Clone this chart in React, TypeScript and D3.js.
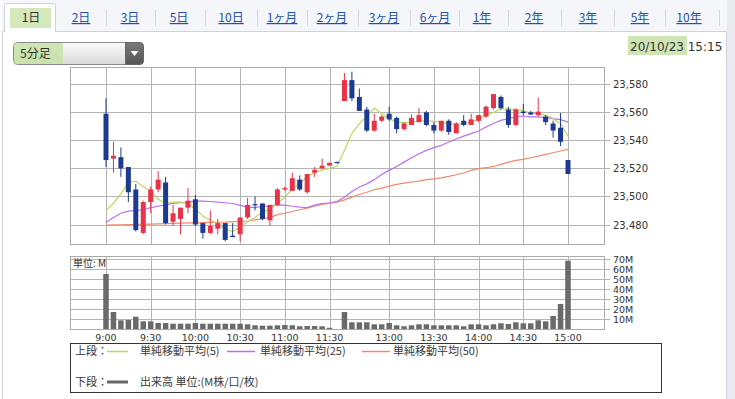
import * as d3 from "d3";

const tabLabels = ["1日", "2日", "3日", "5日", "10日", "1ヶ月", "2ヶ月", "3ヶ月", "6ヶ月", "1年", "2年", "3年", "5年", "10年"];
const tabCenters = [31, 81, 130, 179, 231, 282, 332, 384, 435, 482, 534, 588, 640, 689];

const timeTicks = [0, 6, 12, 18, 24, 30, 38, 44, 50, 56, 62];
const timeLabels = ["9:00", "9:30", "10:00", "10:30", "11:00", "11:30", "13:00", "13:30", "14:00", "14:30", "15:00"];
const priceTicks = [23480, 23500, 23520, 23540, 23560, 23580];
const volTicks = [10, 20, 30, 40, 50, 60, 70];

// 5-minute bars, index 31 = last morning print
const opens = [23559, 23527, 23528, 23521, 23505, 23474, 23496, 23505, 23510, 23482, 23484, 23492, 23498, 23481, 23474, 23477, 23481, 23472, 23473, 23485, 23494.5, 23495, 23483, 23494, 23505, 23504, 23512, 23503, 23517, 23520, 23522, 23524.5, 23568, 23583, 23571, 23562, 23547, 23554, 23559, 23556, 23548, 23551, 23553, 23560, 23551, 23547, 23554, 23545, 23554, 23551, 23554, 23557, 23563, 23571, 23562, 23551, 23560.5, 23560, 23558, 23557, 23552, 23549, 23526];
const highs = [23570, 23539, 23535, 23521, 23509, 23497, 23507, 23518, 23514, 23494, 23492, 23506, 23501, 23481, 23490, 23484, 23481, 23481, 23485, 23499, 23500, 23495, 23494, 23506, 23507, 23517, 23515, 23516, 23521, 23527, 23524, 23525, 23588, 23589, 23577, 23564, 23559, 23558, 23564, 23557, 23553, 23558.5, 23563, 23561, 23553, 23554, 23555, 23553, 23558, 23559, 23558, 23565, 23573, 23572, 23564, 23563, 23566, 23561, 23570.5, 23558, 23554, 23559.5, 23526];
const lows = [23521, 23517, 23514, 23496, 23475, 23473, 23488, 23503, 23480, 23479, 23473, 23488, 23479, 23470, 23473, 23473, 23468, 23471, 23468, 23484, 23490, 23483, 23479, 23493, 23504, 23504, 23504, 23502, 23514, 23520, 23522, 23524, 23568, 23568, 23561, 23546, 23546, 23553, 23554, 23545, 23547, 23551, 23553, 23550, 23545, 23546, 23544, 23545, 23550, 23551, 23553, 23556, 23562, 23562, 23549, 23550, 23558, 23558, 23557, 23551, 23542, 23536, 23516];
const closes = [23526, 23529, 23520, 23503, 23476, 23496, 23505, 23512, 23481, 23488, 23492, 23497, 23480, 23474, 23479, 23481, 23469, 23471, 23485, 23494, 23494, 23484, 23494, 23505, 23506, 23513, 23505, 23516, 23519, 23522, 23524, 23524, 23583, 23570, 23561, 23547, 23554, 23557, 23555, 23548, 23552, 23556, 23558, 23551, 23547, 23554, 23546, 23552, 23551, 23555, 23558, 23564, 23573, 23563, 23551, 23562, 23559.5, 23558.5, 23560.5, 23553, 23547, 23539, 23516];

const sma5 = [23490, 23495, 23502, 23510, 23511, 23507, 23504, 23498, 23495, 23496, 23496, 23495, 23491, 23486, 23483, 23480.5, 23477, 23475, 23478, 23482, 23485, 23489, 23491, 23495, 23499.5, 23505.5, 23509, 23514, 23517, 23519, 23520, 23521.5, 23533, 23545, 23552, 23557, 23563, 23559, 23555.5, 23553, 23552.5, 23553, 23554, 23554, 23553.5, 23553, 23552, 23551.5, 23552, 23553, 23555, 23558, 23560, 23562.5, 23562.5, 23562, 23561, 23559.5, 23559, 23558, 23555.5, 23552, 23543];
const sma25 = [23481.5, 23485, 23488, 23489.5, 23490, 23490.5, 23492, 23493, 23494, 23495, 23495.5, 23496, 23496.7, 23496.7, 23496.4, 23496, 23495.5, 23495, 23493.6, 23492.4, 23492, 23493, 23493, 23494, 23493.8, 23493, 23492.4, 23492, 23493.8, 23495, 23495.5, 23496.4, 23499.5, 23503.6, 23506.7, 23509, 23512, 23515.7, 23518.6, 23521.4, 23524.5, 23527.6, 23530.5, 23532.9, 23534.8, 23536.4, 23538.8, 23541, 23543, 23544.8, 23546.7, 23549.5, 23552, 23554.3, 23555.5, 23556.7, 23557.4, 23556.7, 23556.7, 23556.2, 23555.5, 23554.8, 23553];
const sma50 = [23479.5, 23479.7, 23479.8, 23480, 23480, 23480.2, 23480.3, 23480.5, 23480.6, 23480.8, 23481, 23481.1, 23481.2, 23481.3, 23481.5, 23481.6, 23481.7, 23482, 23482.2, 23482.5, 23483.3, 23484, 23485, 23487, 23488, 23489.3, 23490.5, 23491.7, 23493, 23494.3, 23495, 23496, 23497.6, 23499.5, 23501.4, 23503, 23504.8, 23506, 23507.4, 23508.6, 23509.5, 23510.3, 23511, 23512, 23512.6, 23513.3, 23514.3, 23515.5, 23516.7, 23518.6, 23519.8, 23520.5, 23521.4, 23522.9, 23524.5, 23525.7, 23526.4, 23527.6, 23528.8, 23530, 23531.2, 23532.4, 23533.6];

// volume, millions
const volumes = [55, 17, 8.7, 9, 12.3, 7.7, 7.7, 6, 6, 5.3, 5.3, 5.3, 6, 5.3, 5.3, 5.3, 5.3, 5.3, 5.3, 4.7, 3.7, 3.3, 3.3, 3.7, 4, 3.7, 2.7, 3, 3, 2.7, 1.2, 0, 17, 6.7, 6.7, 6.7, 4.7, 4.7, 6, 3.7, 2.7, 3.7, 4.7, 4.7, 3.7, 3.7, 3.7, 3.7, 2.7, 4.7, 4.7, 3.7, 4.7, 5.7, 5, 6.7, 5.7, 5.7, 8.7, 7.7, 13, 25, 68.3];

const RED = "#e8344a";
const BLUE = "#1d3a92";
const GRID = "#b4b4b4";
const JP = "'Noto Sans CJK JP', sans-serif";
const NUM = "'DejaVu Sans', sans-serif";

export default function App() {
  const W = 735;
  const H = 399;
  const plot = { left: 70, right: 604, top: 67, bottom: 244 };
  const vol = { top: 256, bottom: 329 };

  const x = d3.scaleLinear().domain([0, 62]).range([106, 568]);
  const y = d3.scaleLinear().domain([23480, 23580]).range([224.5, 84.3]);
  const yv = d3.scaleLinear().domain([0, 70]).range([329, 259]);

  const idx = d3.range(opens.length);
  const maLine = (vals: number[]) =>
    d3.line<number>().x((_, i) => x(i)).y((v) => y(v))(vals) || "";

  const cw = 5;
  const vw = 5.5;

  return (
    <div style={{ position: "fixed", left: 0, top: 0, width: W, height: H, background: "#fff" }}>
      <svg width={W} height={H} style={{ display: "block" }}>
        {/* tab strip */}
        <rect x={2} y={0} width={725} height={31} fill="#f5f6fa" />
        <rect x={727} y={0} width={8} height={H} fill="#e9ebf0" />
        <path d="M2.5,399 V31.5 H4.5" fill="none" stroke="#cfd2d8" />
        <path d="M55.5,31.5 H726.5 V399" fill="none" stroke="#cfd2d8" />
        <path d="M4.5,32 V5.5 Q4.5,3.5 6.5,3.5 H53.5 Q55.5,3.5 55.5,5.5 V32" fill="#fff" stroke="#cfd2d8" />
        <rect x={10} y={8} width={41} height={20} fill="#cfe6b4" opacity={0.9} />
        {tabLabels.map((t, i) => (
          <text
            key={t}
            x={tabCenters[i]}
            y={22}
            textAnchor="middle"
            fontFamily={JP}
            fontSize={12}
            fill={i === 0 ? "#333" : "#2353a8"}
            textDecoration={i === 0 ? "none" : "underline"}
          >
            {t}
          </text>
        ))}
        {tabCenters.slice(1).map((c, i) => {
          const next = i + 2 < tabCenters.length ? tabCenters[i + 2] : 748;
          const sx = Math.round((c + next) / 2) + 0.5;
          return <line key={i} x1={sx} x2={sx} y1={10} y2={26} stroke="#d4d6dc" />;
        })}

        {/* dropdown */}
        <defs>
          <linearGradient id="dd" x1="0" y1="0" x2="0" y2="1">
            <stop offset="0" stopColor="#fafafa" />
            <stop offset="1" stopColor="#d9d9d9" />
          </linearGradient>
          <linearGradient id="ddb" x1="0" y1="0" x2="0" y2="1">
            <stop offset="0" stopColor="#7a7a7a" />
            <stop offset="1" stopColor="#555" />
          </linearGradient>
        </defs>
        <rect x={13.5} y={42.5} width={130} height={22} rx={4} fill="url(#dd)" stroke="#8a8a8a" />
        <path d="M125.5,42.5 H139.5 Q143.5,42.5 143.5,46.5 V60.5 Q143.5,64.5 139.5,64.5 H125.5 Z" fill="url(#ddb)" stroke="#666" />
        <path d="M130.5,51 H138.5 L134.5,56 Z" fill="#fff" />
        <rect x={14} y={43} width={49} height={21} rx={3} fill="#c6e3a6" opacity={0.85} />
        <text x={20} y={58} fontFamily={JP} fontSize={12} fill="#333">5分足</text>

        {/* date */}
        <rect x={628} y={36} width={59} height={19} fill="#cfe6b4" />
        <text x={630} y={50.5} fontFamily={NUM} fontSize={12} fill="#333">20/10/23 15:15</text>

        {/* price panel */}
        <rect x={plot.left + 0.5} y={plot.top + 0.5} width={plot.right - plot.left} height={plot.bottom - plot.top} fill="#fff" stroke="#a9a9a9" />
        {priceTicks.map((p) => (
          <g key={p}>
            <line x1={plot.left} x2={plot.right + 6} y1={Math.round(y(p)) + 0.5} y2={Math.round(y(p)) + 0.5} stroke={GRID} />
            <text x={613} y={y(p) + 4} fontFamily={NUM} fontSize={10} fill="#333">
              {d3.format(",")(p)}
            </text>
          </g>
        ))}
        {timeTicks.map((t) => (
          <line key={t} x1={Math.round(x(t)) + 0.5} x2={Math.round(x(t)) + 0.5} y1={plot.top} y2={plot.bottom} stroke={GRID} />
        ))}

        <path d={maLine(sma50)} fill="none" stroke="#f08a6c" strokeWidth={1.2} />
        <path d={maLine(sma25)} fill="none" stroke="#b86ff0" strokeWidth={1.2} />
        <path d={maLine(sma5)} fill="none" stroke="#bcd85c" strokeWidth={1.2} />

        {idx.map((i) => {
          const up = closes[i] > opens[i];
          const col = up ? RED : BLUE;
          const yTop = y(Math.max(opens[i], closes[i]));
          const yBot = y(Math.min(opens[i], closes[i]));
          const cx = x(i);
          return (
            <g key={i}>
              <line x1={cx} x2={cx} y1={y(highs[i])} y2={y(lows[i])} stroke={col} strokeWidth={1} />
              <rect x={cx - cw / 2} y={yTop} width={cw} height={Math.max(1.2, yBot - yTop)} fill={col} />
            </g>
          );
        })}

        {/* volume panel */}
        <rect x={plot.left + 0.5} y={vol.top + 0.5} width={plot.right - plot.left} height={vol.bottom - vol.top} fill="#fff" stroke="#a9a9a9" />
        {volTicks.map((v) => (
          <g key={v}>
            <line x1={plot.left} x2={plot.right + 6} y1={Math.round(yv(v)) + 0.5} y2={Math.round(yv(v)) + 0.5} stroke={GRID} />
            <text x={613} y={yv(v) + 3.5} fontFamily={NUM} fontSize={9.5} fill="#333">
              {v}M
            </text>
          </g>
        ))}
        {timeTicks.map((t, k) => (
          <g key={t}>
            <line x1={Math.round(x(t)) + 0.5} x2={Math.round(x(t)) + 0.5} y1={vol.top} y2={vol.bottom} stroke={GRID} />
            <text x={x(t)} y={341} textAnchor="middle" fontFamily={NUM} fontSize={9.5} fill="#333">
              {timeLabels[k]}
            </text>
          </g>
        ))}
        {idx.map((i) =>
          volumes[i] > 0 ? (
            <rect key={i} x={x(i) - vw / 2} y={yv(volumes[i])} width={vw} height={yv(0) - yv(volumes[i])} fill="#6a6a6a" />
          ) : null
        )}
        <text x={73} y={267} fontFamily={JP} fontSize={10} fill="#333">単位: M</text>

        {/* legend */}
        <rect x={70.5} y={343.5} width={591} height={49} fill="#fff" stroke="#333" />
        <g fontFamily={JP} fontSize={11} fill="#3a3a3a">
          <text x={75} y={355}>上段：</text>
          <line x1={107} x2={128} y1={351.5} y2={351.5} stroke="#bcd85c" strokeWidth={1.5} />
          <text x={140} y={355}>単純移動平均(5)</text>
          <line x1={227} x2={255} y1={351.5} y2={351.5} stroke="#b86ff0" strokeWidth={1.5} />
          <text x={260} y={355}>単純移動平均(25)</text>
          <line x1={362} x2={390} y1={351.5} y2={351.5} stroke="#f08a6c" strokeWidth={1.5} />
          <text x={393} y={355}>単純移動平均(50)</text>
          <text x={75} y={386}>下段：</text>
          <line x1={107} x2={128} y1={382} y2={382} stroke="#666" strokeWidth={3} />
          <text x={140} y={386}>出来高 単位:(M株/口/枚)</text>
        </g>
      </svg>
    </div>
  );
}
